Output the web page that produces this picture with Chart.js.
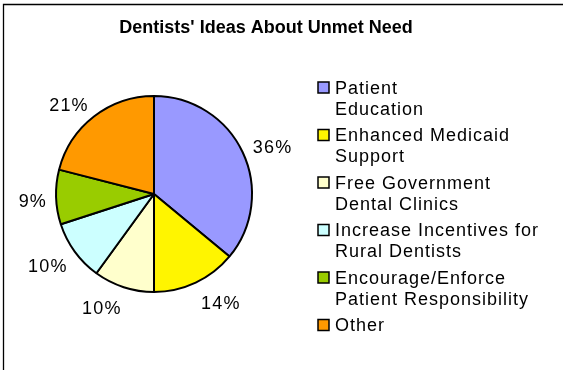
<!DOCTYPE html>
<html>
<head>
<meta charset="utf-8">
<script src="https://cdn.jsdelivr.net/npm/chart.js@4/dist/chart.umd.min.js"></script>
<style>
  html, body { margin: 0; padding: 0; background: #fff; overflow: hidden; }
  #wrap { position: relative; width: 563px; height: 370px; }
</style>
</head>
<body>
<div id="wrap"><canvas id="c" width="563" height="370"></canvas></div>
<script>
// Survey answers: what dentists think would address unmet dental need
const chartTitle = "Dentists' Ideas About Unmet Need";
const categories = [
  ["Patient", "Education"],
  ["Enhanced Medicaid", "Support"],
  ["Free Government", "Dental Clinics"],
  ["Increase Incentives for", "Rural Dentists"],
  ["Encourage/Enforce", "Patient Responsibility"],
  ["Other"]
];
const shares = [36, 14, 10, 10, 9, 21];
const sliceColors = ["#9999FF", "#FFF500", "#FFFFCC", "#CCFFFF", "#99CC00", "#FF9900"];

const FONT = '"Liberation Sans", Arial, sans-serif';

// Frame, title, outside percentage labels and a two-line legend
const decorations = {
  id: "decorations",
  afterDraw(chart) {
    const ctx = chart.ctx;
    ctx.save();

    // outer frame (top and left edges)
    ctx.strokeStyle = "#000";
    ctx.lineWidth = 1.3;
    ctx.beginPath();
    ctx.moveTo(3.5, 370);
    ctx.lineTo(3.5, 4.5);
    ctx.lineTo(563, 4.5);
    ctx.stroke();

    // title
    ctx.fillStyle = "#000";
    ctx.font = "bold 18px " + FONT;
    ctx.textAlign = "center";
    ctx.textBaseline = "alphabetic";
    ctx.fillText(chartTitle, 266, 33);

    // percentage labels just outside each slice
    ctx.font = "18px " + FONT;
    if ("letterSpacing" in ctx) ctx.letterSpacing = "1.2px";
    const meta = chart.getDatasetMeta(0);
    meta.data.forEach((arc, i) => {
      const p = arc.getProps(["x", "y", "startAngle", "endAngle", "outerRadius"], true);
      const mid = (p.startAngle + p.endAngle) / 2;
      const ux = Math.cos(mid), uy = Math.sin(mid);
      const txt = shares[i] + "%";
      const w = ctx.measureText(txt).width;
      const d = p.outerRadius + 10;
      const cx = p.x + d * ux + (w / 2) * Math.sign(ux) + 1;
      const cy = p.y + d * uy + 9 * uy + 2.5;
      ctx.textAlign = "center";
      ctx.fillText(txt, cx, cy + 6.5);
    });

    // legend
    if ("letterSpacing" in ctx) ctx.letterSpacing = "1px";
    ctx.textAlign = "left";
    const firstBase = 93.5, step = 47.5, lineH = 21;
    categories.forEach((lines, i) => {
      const base = firstBase + i * step;
      ctx.fillStyle = sliceColors[i];
      ctx.fillRect(318, base - 11.5, 11, 11);
      ctx.strokeStyle = "#000";
      ctx.lineWidth = 1.5;
      ctx.strokeRect(318, base - 11.5, 11, 11);
      ctx.fillStyle = "#000";
      lines.forEach((ln, j) => ctx.fillText(ln, 335, base + j * lineH));
    });

    ctx.restore();
  }
};

new Chart(document.getElementById("c"), {
  type: "pie",
  data: {
    labels: categories.map(l => l.join(" ")),
    datasets: [{
      data: shares,
      backgroundColor: sliceColors,
      borderColor: "#000",
      borderWidth: 2,
      radius: 98
    }]
  },
  options: {
    responsive: false,
    animation: false,
    layout: { padding: { left: 54, right: 309, top: 94, bottom: 76 } },
    plugins: {
      legend: { display: false },
      title: { display: false },
      tooltip: { enabled: false }
    }
  },
  plugins: [decorations]
});
</script>
</body>
</html>
